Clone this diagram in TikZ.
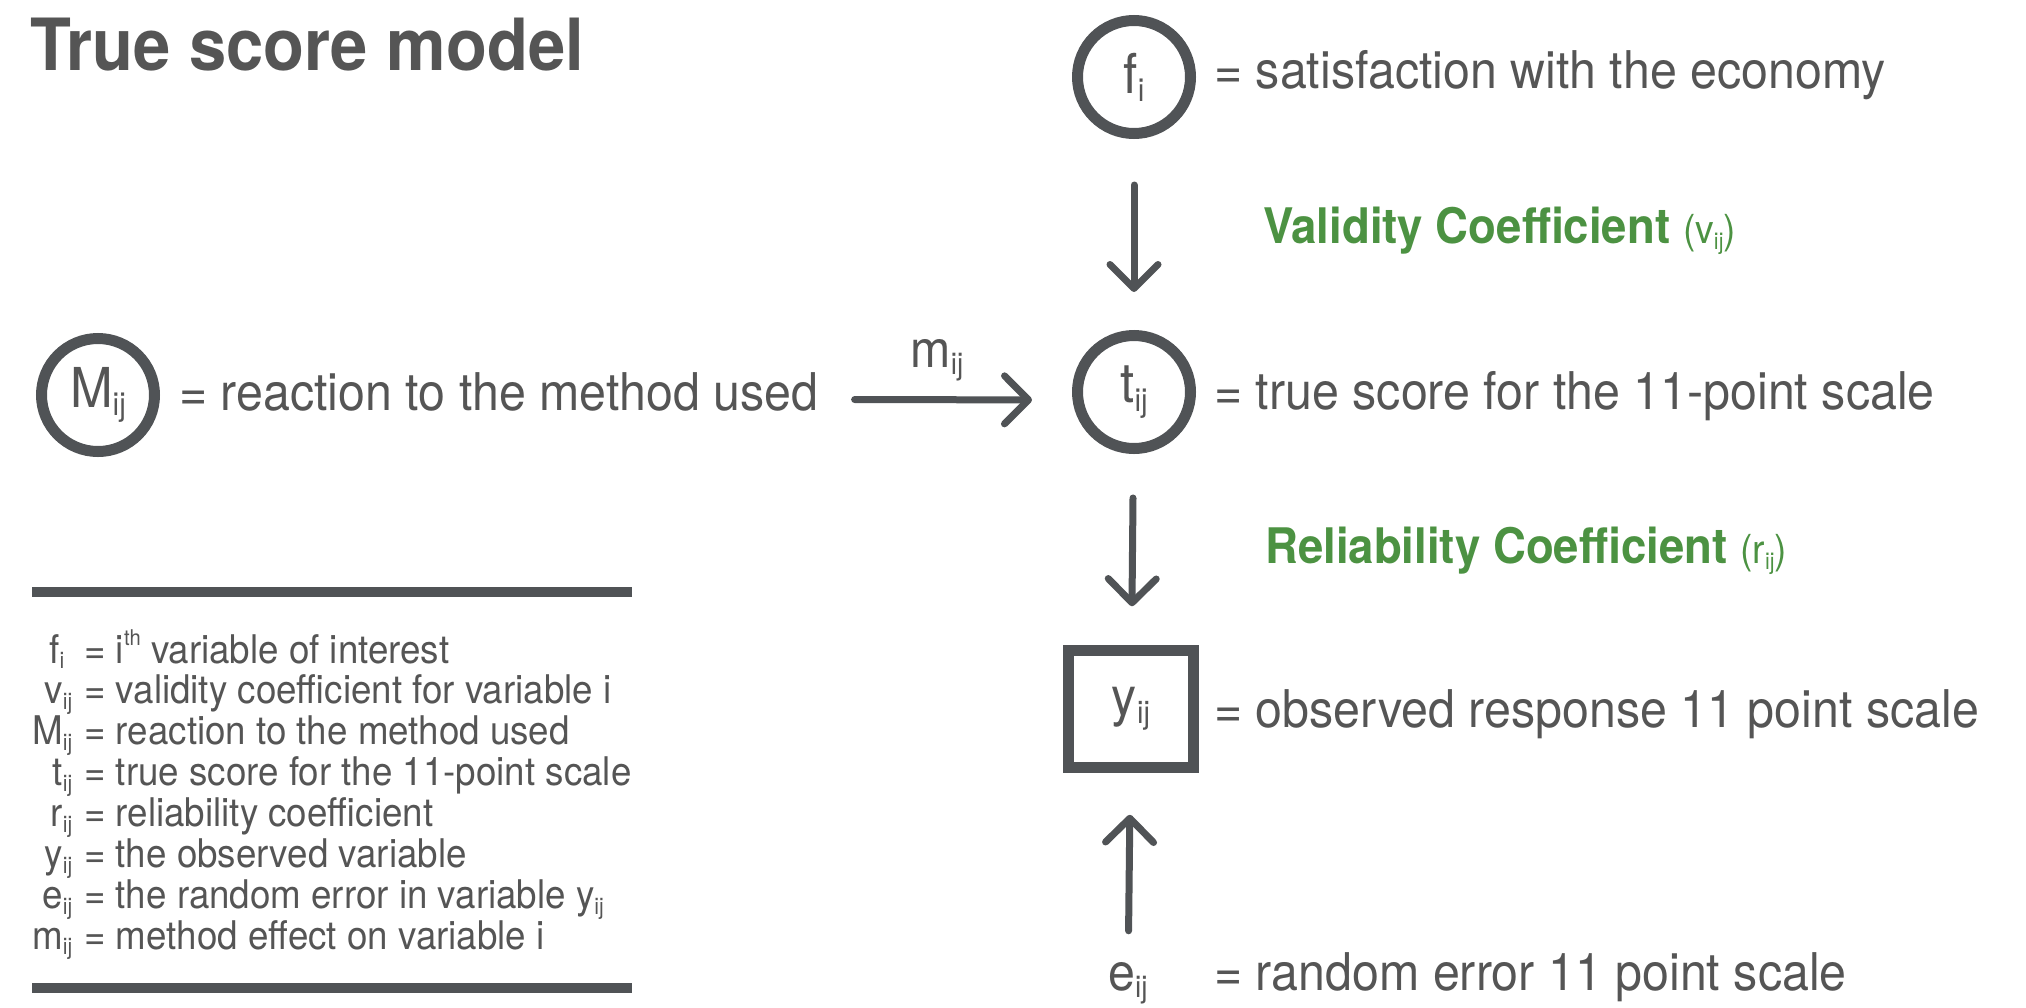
\documentclass[tikz,border=0pt]{standalone}
\usepackage{fontspec}
\setmainfont{TeX Gyre Heros}[FakeStretch=0.93]
\usetikzlibrary{arrows.meta}

\definecolor{ink}{HTML}{505356}
\definecolor{textgray}{HTML}{555555}
\definecolor{leaf}{HTML}{4C9242}

\newcommand{\sub}[1]{\raisebox{-0.15em}{\scalebox{0.58}{#1}}}
\newcommand{\supth}{\raisebox{0.45em}{\scalebox{0.55}{th}}}

\tikzset{
  latent/.style = {draw=ink, circle, line width=11pt, minimum size=113pt, inner sep=0pt,
    text=textgray, font=\fontsize{55}{55}\selectfont},
  observed/.style = {draw=ink, rectangle, line width=10.5pt, minimum width=125pt,
    minimum height=117pt, inner sep=0pt, text=textgray, font=\fontsize{54}{54}\selectfont},
  desc/.style = {anchor=base west, inner sep=0pt, text=textgray, font=\fontsize{52}{52}\selectfont},
  coef/.style = {anchor=base west, inner sep=0pt, text=leaf, font=\fontsize{49}{49}\selectfont\bfseries},
  arr/.style = {draw=ink, line width=7pt, line cap=round,
    -{Straight Barb[round, length=24pt, width=48pt]}},
  rulebar/.style = {draw=ink, line width=10pt}
}

\begin{document}
\begin{tikzpicture}[x=1pt, y=-1pt]
    \useasboundingbox (0,0) rectangle (2026,1007);

    % Title
    \node[anchor=base west, inner sep=0pt, text=textgray,
      font=\fontsize{72}{72}\selectfont\bfseries] (title) at (30,70) {True score model};

    % Nodes
    \node[latent] (fi) at (1134,77) {f\sub{i}};
    \node[latent] (ti) at (1134,392) {t\sub{ij}};
    \node[latent] (Mij) at (98,395) {M\sub{ij}};
    \node[observed] (yij) at (1131,709) {y\sub{ij}};
    \node[desc, anchor=base] (eij) at (1128,990) {e\sub{ij}};
    \node[desc, anchor=base] (mlab) at (937,367) {m\sub{ij}};

    % Descriptions
    \node[desc] (fitext) at (1214,88) {= satisfaction with the economy};
    \node[desc] (Mtext) at (179,410) {= reaction to the method used};
    \node[desc] (titext) at (1214,409) {= true score for the 11-point scale};
    \node[desc] (yitext) at (1214,727) {= observed response 11 point scale};
    \node[desc] (eitext) at (1214,990) {= random error 11 point scale};

    % Coefficients
    \node[coef] (valid) at (1263,243)
      {Validity Coefficient {\mdseries\fontsize{40}{40}\selectfont(v\sub{ij})}};
    \node[coef] (relia) at (1265,563)
      {Reliability Coefficient {\mdseries\fontsize{40}{40}\selectfont(r\sub{ij})}};

    % Edges
    \draw[arr, shorten <=46pt, shorten >=38pt] (fi) -- (ti);
    \draw[arr, shorten <=44pt, shorten >=39pt] (ti) -- (yij);
    \draw[arr, shorten <=31pt, shorten >=42pt] (eij) -- (yij);
    \draw[arr, shorten <=36pt, shorten >=40pt] ([yshift=-8pt]Mtext.east) -- ([yshift=-8pt]ti.west);

    % Legend
    \draw[rulebar] (32,592) -- (632,592);
    \draw[rulebar] (32,988) -- (632,988);
    \node[anchor=base west, inner sep=0pt, text=textgray,
      font=\fontsize{39.5}{40}\selectfont] (legend) at (32,663) {%
      \begin{tabular}[t]{@{}r@{\hspace{12pt}}l@{}}
        f\sub{i}\hspace{8pt} & = i\supth{} variable of interest\\
        v\sub{ij} & = validity coefficient for variable i\\
        M\sub{ij} & = reaction to the method used\\
        t\sub{ij} & = true score for the 11-point scale\\
        r\sub{ij} & = reliability coefficient\\
        y\sub{ij} & = the observed variable\\
        e\sub{ij} & = the random error in variable y\sub{ij}\\
        m\sub{ij} & = method effect on variable i
      \end{tabular}};

\end{tikzpicture}
\end{document}
